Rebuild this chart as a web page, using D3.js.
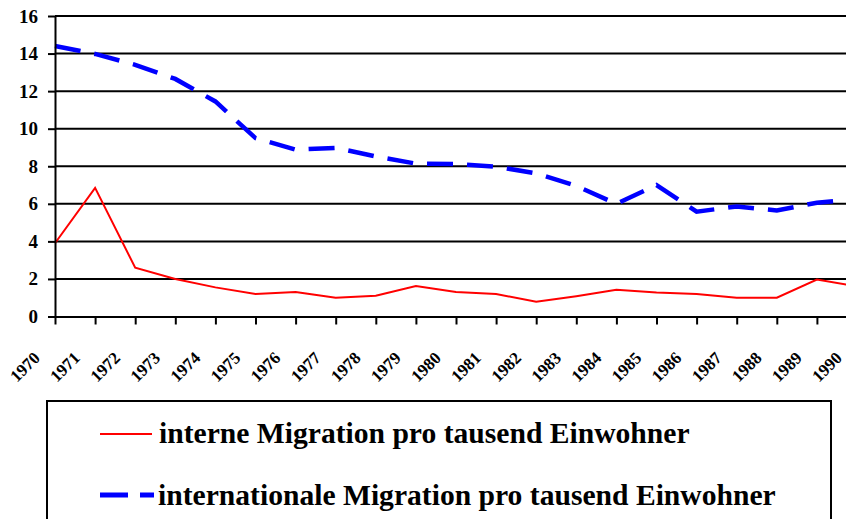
<!DOCTYPE html>
<html>
<head>
<meta charset="utf-8">
<script src="https://cdn.jsdelivr.net/npm/d3@7"></script>
</head>
<body style="margin:0">
<script>
// Chart data
const years = [1970, 1971, 1972, 1973, 1974, 1975, 1976, 1977, 1978, 1979, 1980,
  1981, 1982, 1983, 1984, 1985, 1986, 1987, 1988, 1989, 1990];
const interne = [3.9, 6.85, 2.6, 2.0, 1.55, 1.2, 1.3, 1.0, 1.1, 1.62, 1.3,
  1.2, 0.78, 1.08, 1.42, 1.28, 1.2, 1.0, 1.0, 1.97, 1.6];
const internationale = [14.4, 13.98, 13.4, 12.65, 11.45, 9.5, 8.88, 8.98, 8.52, 8.14, 8.12,
  7.98, 7.62, 6.95, 6.0, 7.0, 5.58, 5.86, 5.65, 6.06, 6.26];
const yTicks = [0, 2, 4, 6, 8, 10, 12, 14, 16];
const seriesNames = ["interne Migration pro tausend Einwohner",
  "internationale Migration pro tausend Einwohner"];

const WIDTH = 846;
const HEIGHT = 519;
const PLOT = { left: 55, right: 857, top: 16, bottom: 316.5 };
const FONT = "Liberation Serif";

let svg = d3.select("body").append("svg")
  .attr("width", WIDTH).attr("height", HEIGHT);

let x = d3.scalePoint().domain(years).range([PLOT.left, PLOT.right]);
let y = d3.scaleLinear().domain([0, 16]).range([PLOT.bottom, PLOT.top]);

// gridlines
let grid = svg.append("g");
grid.selectAll("line")
  .data(yTicks.slice(1))
  .join("line")
  .attr("x1", PLOT.left).attr("x2", PLOT.right)
  .attr("y1", d => y(d)).attr("y2", d => y(d))
  .attr("stroke", "#000").attr("stroke-width", 2);

// series
let lineGen = d3.line().x((d, i) => x(years[i])).y(d => y(d));

svg.append("path")
  .datum(interne)
  .attr("fill", "none")
  .attr("stroke", "#ff0000")
  .attr("stroke-width", 2)
  .attr("d", lineGen);

svg.append("path")
  .datum(internationale)
  .attr("fill", "none")
  .attr("stroke", "#0000ff")
  .attr("stroke-width", 4.5)
  .attr("stroke-dasharray", "26,14")
  .attr("d", lineGen);

// y axis (ticks drawn by d3, labels added as own texts)
svg.append("g")
  .attr("transform", `translate(${PLOT.left},0)`)
  .call(d3.axisLeft(y).tickValues(yTicks).tickSize(7).tickSizeOuter(0).tickFormat(""))
  .call(g => g.select(".domain").attr("stroke", "#000").attr("stroke-width", 2))
  .call(g => g.selectAll("line").attr("stroke", "#000").attr("stroke-width", 2));

svg.append("g").selectAll("text")
  .data(yTicks)
  .join("text")
  .attr("x", 38)
  .attr("y", d => y(d) + 6.5)
  .attr("text-anchor", "end")
  .attr("font-family", FONT)
  .attr("font-weight", "bold")
  .attr("font-size", 19)
  .text(d => d);

// x axis
svg.append("g")
  .attr("transform", `translate(0,${PLOT.bottom})`)
  .call(d3.axisBottom(x).tickSize(8).tickSizeOuter(0).tickFormat(""))
  .call(g => g.select(".domain").attr("stroke", "#000").attr("stroke-width", 2))
  .call(g => g.selectAll("line").attr("stroke", "#000").attr("stroke-width", 2));

svg.append("g").selectAll("text")
  .data(years)
  .join("text")
  .attr("transform", d => `translate(${x(d) - 14},359) rotate(-45)`)
  .attr("text-anchor", "end")
  .attr("font-family", FONT)
  .attr("font-weight", "bold")
  .attr("font-size", 17)
  .text(d => d);

// legend
svg.append("rect")
  .attr("x", 47).attr("y", 401)
  .attr("width", 784).attr("height", 140)
  .attr("fill", "none")
  .attr("stroke", "#000")
  .attr("stroke-width", 2);

svg.append("line")
  .attr("x1", 100).attr("x2", 152)
  .attr("y1", 434).attr("y2", 434)
  .attr("stroke", "#ff0000").attr("stroke-width", 2);

svg.append("line")
  .attr("x1", 100).attr("x2", 154)
  .attr("y1", 495).attr("y2", 495)
  .attr("stroke", "#0000ff").attr("stroke-width", 5)
  .attr("stroke-dasharray", "28,12");

svg.append("text")
  .attr("x", 159).attr("y", 443)
  .attr("font-family", FONT).attr("font-weight", "bold")
  .attr("font-size", 29.6)
  .text(seriesNames[0]);

svg.append("text")
  .attr("x", 158).attr("y", 505)
  .attr("font-family", FONT).attr("font-weight", "bold")
  .attr("font-size", 29.6)
  .text(seriesNames[1]);
</script>
</body>
</html>
